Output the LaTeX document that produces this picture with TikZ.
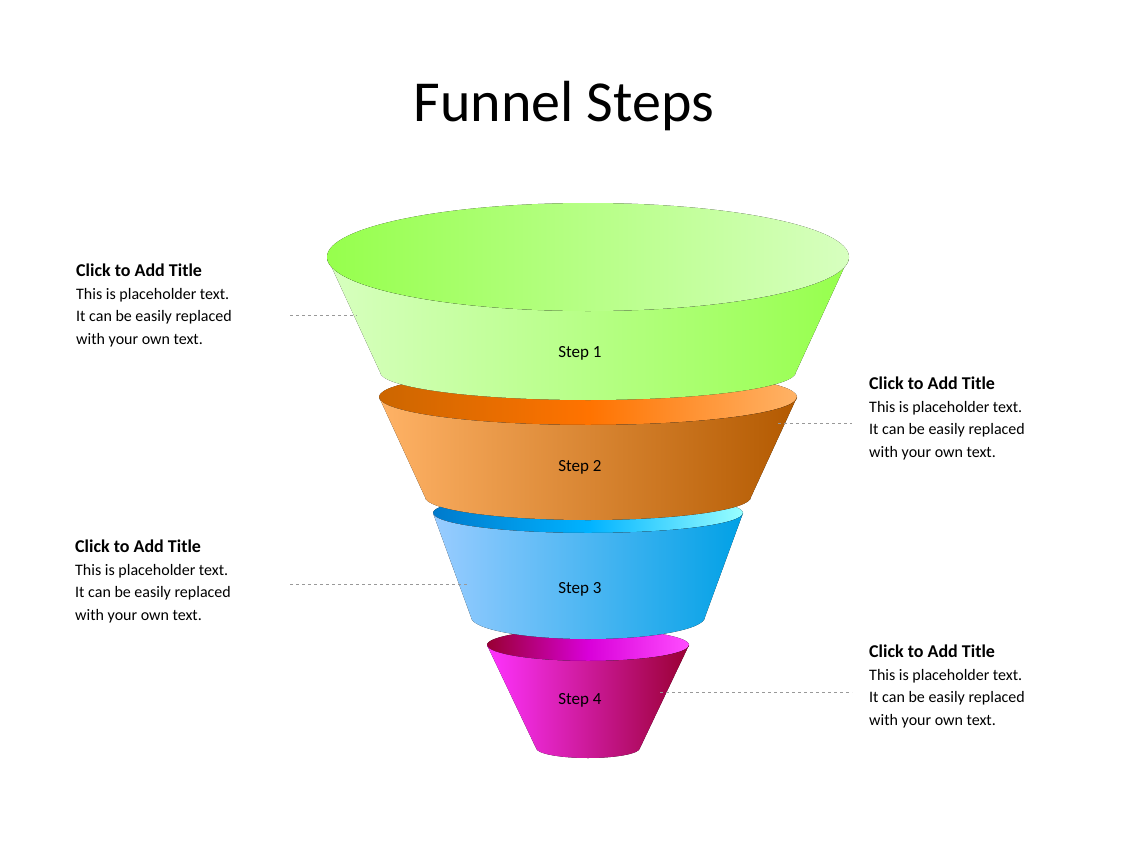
\documentclass[tikz,border=0pt]{standalone}
\usepackage{fontspec}
\setmainfont{Carlito}
\begin{document}
\begin{tikzpicture}[x=1pt,y=-1pt,
  lbl/.style={font=\fontsize{17}{20}\selectfont},
  desc/.style={anchor=north west,align=left,inner sep=0pt,font=\fontsize{16}{22.5}\selectfont},
  lead/.style={draw=gray!80,dashed,line width=0.7pt}]
\useasboundingbox (0,0) rectangle (1128,846);
\newcommand{\funseg}[7]{%
  \fill[#7] ({588-#2},#1) arc[start angle=180,end angle=0,x radius=#2,y radius=#3]
    -- ({588+#5},#4) arc[start angle=0,end angle=180,x radius=#5,y radius=#6] -- cycle;}
\node[font=\fontsize{58}{60}\selectfont] (title) at (564,106) {Funnel Steps};
% step 4
\fill[left color=purple!80!black,right color=magenta!70,middle color=magenta!85!black] (588,645) ellipse[x radius=101,y radius=16];
\funseg{645}{101}{16}{748}{52}{10}{left color=magenta!80!white,middle color=magenta!90,right color=purple!80!black}
% step 3
\fill[left color=cyan!60!blue!80!black,right color=cyan!40,middle color=cyan!70!blue] (588,513) ellipse[x radius=155,y radius=20];
\funseg{513}{155}{20}{617}{117}{22}{left color=cyan!50!blue!40,middle color=cyan!80!blue!80,right color=cyan!70!blue!90!black}
% step 2
\fill[left color=orange!80!black,right color=orange!60,middle color=orange!90!red] (588,397) ellipse[x radius=209,y radius=28];
\funseg{397}{209}{28}{497}{163}{23}{left color=orange!60,middle color=orange!90!red,right color=orange!70!black}
% step 1
\funseg{257}{261}{54}{372}{208}{28}{left color=green!50!lime!25,right color=green!45!lime!70!white}
\fill[left color=green!45!lime!70!white,middle color=green!45!lime!70!white,right color=green!50!lime!25] (588,257) ellipse[x radius=261,y radius=54];
\node[lbl] (s1) at (580,353) {Step 1};
\node[lbl] (s2) at (580,467) {Step 2};
\node[lbl] (s3) at (580,589) {Step 3};
\node[lbl] (s4) at (580,700) {Step 4};
\node[desc] (t1) at (76,264) {\textbf{\fontsize{18}{22}\selectfont Click to Add Title}\\This is placeholder text.\\It can be easily replaced\\with your own text.};
\node[desc] (t2) at (869,377) {\textbf{\fontsize{18}{22}\selectfont Click to Add Title}\\This is placeholder text.\\It can be easily replaced\\with your own text.};
\node[desc] (t3) at (75,540) {\textbf{\fontsize{18}{22}\selectfont Click to Add Title}\\This is placeholder text.\\It can be easily replaced\\with your own text.};
\node[desc] (t4) at (869,645) {\textbf{\fontsize{18}{22}\selectfont Click to Add Title}\\This is placeholder text.\\It can be easily replaced\\with your own text.};
\coordinate (a1) at (290,315); \coordinate (b1) at (357,315);
\coordinate (a2) at (778,423); \coordinate (b2) at (852,423);
\coordinate (a3) at (290,584); \coordinate (b3) at (468,584);
\coordinate (a4) at (660,692); \coordinate (b4) at (852,692);
\draw[lead] (a1) -- (b1); \draw[lead] (a2) -- (b2);
\draw[lead] (a3) -- (b3); \draw[lead] (a4) -- (b4);
\end{tikzpicture}
\end{document}
